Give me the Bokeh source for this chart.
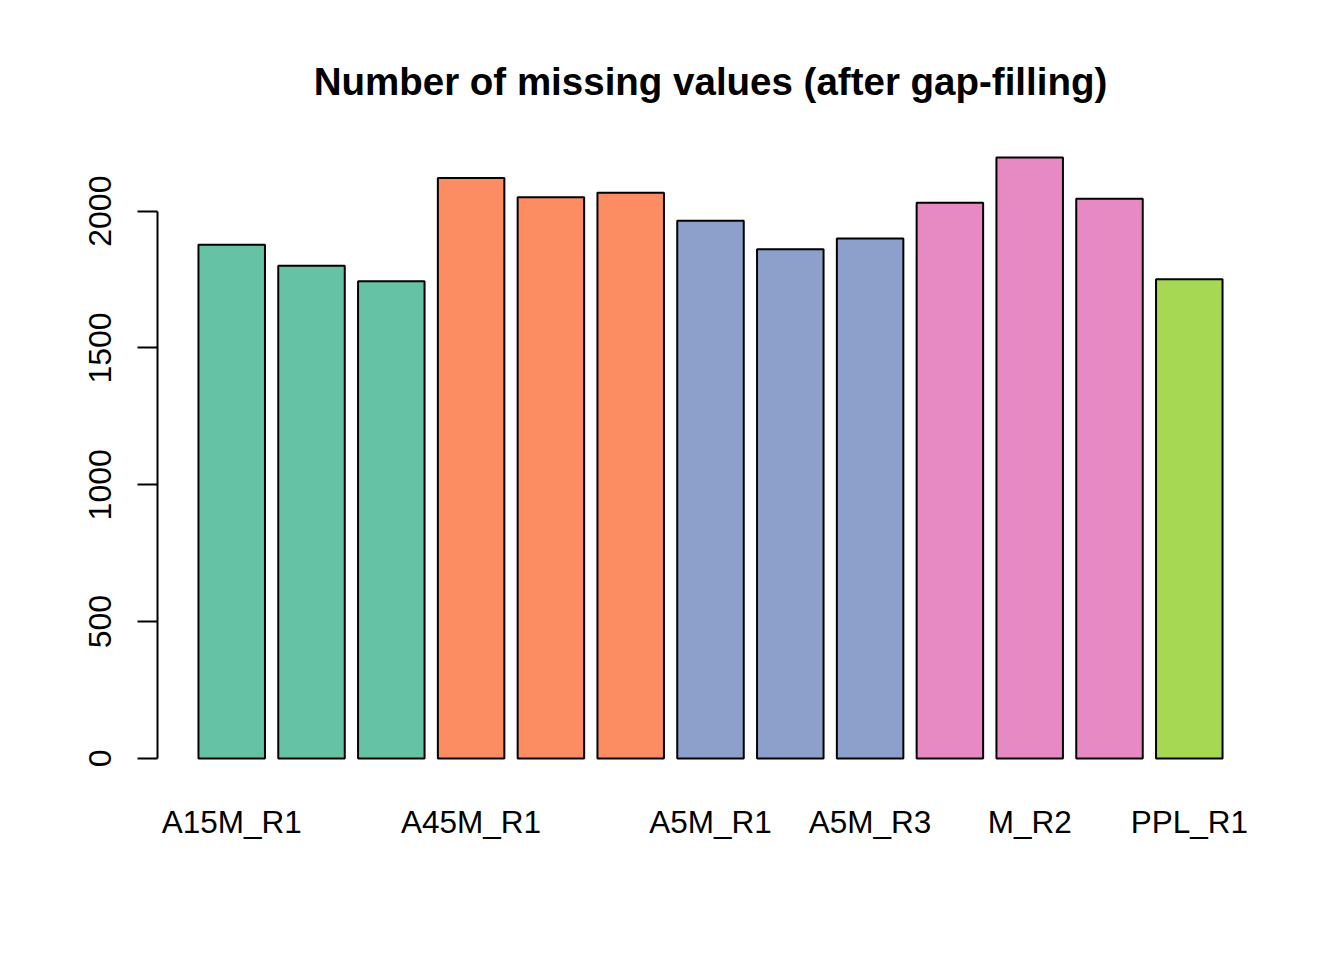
from bokeh.plotting import figure
from bokeh.models import FactorRange, Range1d, FixedTicker, ColumnDataSource, Title, CustomJSTickFormatter
from bokeh.embed import file_html
from bokeh.resources import INLINE

samples = ["A15M_R1", "A15M_R2", "A15M_R3", "A45M_R1", "A45M_R2", "A45M_R3",
           "A5M_R1", "A5M_R2", "A5M_R3", "M_R1", "M_R2", "M_R3", "PPL_R1"]
missing = [1877, 1801, 1744, 2121, 2051, 2067, 1965, 1861, 1900, 2031, 2196, 2045, 1751]
colors = ["#66C2A5", "#66C2A5", "#66C2A5", "#FC8D62", "#FC8D62", "#FC8D62",
          "#8DA0CB", "#8DA0CB", "#8DA0CB", "#E78AC3", "#E78AC3", "#E78AC3", "#A6D854"]
shown_labels = ["A15M_R1", "A45M_R1", "A5M_R1", "A5M_R3", "M_R2", "PPL_R1"]
y_ticks = [0, 500, 1000, 1500, 2000]

ymax = max(missing)
p = figure(
    x_range=FactorRange(*samples, range_padding=0.43, range_padding_units="absolute"),
    y_range=Range1d(-0.04 * ymax, 1.04 * ymax),
    frame_width=1106, frame_height=649,
    min_border_left=157, min_border_right=75, min_border_top=133, min_border_bottom=170,
    output_backend="svg", toolbar_location=None,
)
p.title = Title(text="Number of missing values (after gap-filling)", align="center",
                text_font="Liberation Sans", text_font_size="38.5px", text_font_style="bold",
                text_color="black", standoff=61)

src = ColumnDataSource(dict(x=samples, top=missing, color=colors))
p.vbar(x="x", top="top", bottom=0, width=1 / 1.2, source=src, fill_color="color",
       line_color="black", line_width=2)

p.grid.visible = False
p.outline_line_color = None
p.background_fill_color = "white"
p.border_fill_color = "white"

xa = p.xaxis[0]
xa.axis_line_color = None
xa.major_tick_line_color = None
xa.major_tick_out = 0
xa.major_tick_in = 0
xa.minor_tick_line_color = None
xa.major_label_text_font = "Liberation Sans"
xa.major_label_text_font_size = "31.5px"
xa.major_label_text_color = "black"
xa.major_label_standoff = 21
xa.formatter = CustomJSTickFormatter(args=dict(shown=shown_labels),
                                     code="return shown.includes(tick) ? tick : '';")

ya = p.yaxis[0]
ya.ticker = FixedTicker(ticks=y_ticks)
ya.bounds = (0, 2000)
ya.axis_line_width = 2
ya.axis_line_color = "black"
ya.major_tick_line_width = 2
ya.major_tick_line_color = "black"
ya.major_tick_out = 20
ya.major_tick_in = 0
ya.minor_tick_line_color = None
ya.major_label_orientation = "vertical"
ya.major_label_text_font = "Liberation Sans"
ya.major_label_text_font_size = "32px"
ya.major_label_text_color = "black"
ya.major_label_standoff = 26

open("out.html", "w").write(file_html(p, INLINE))
